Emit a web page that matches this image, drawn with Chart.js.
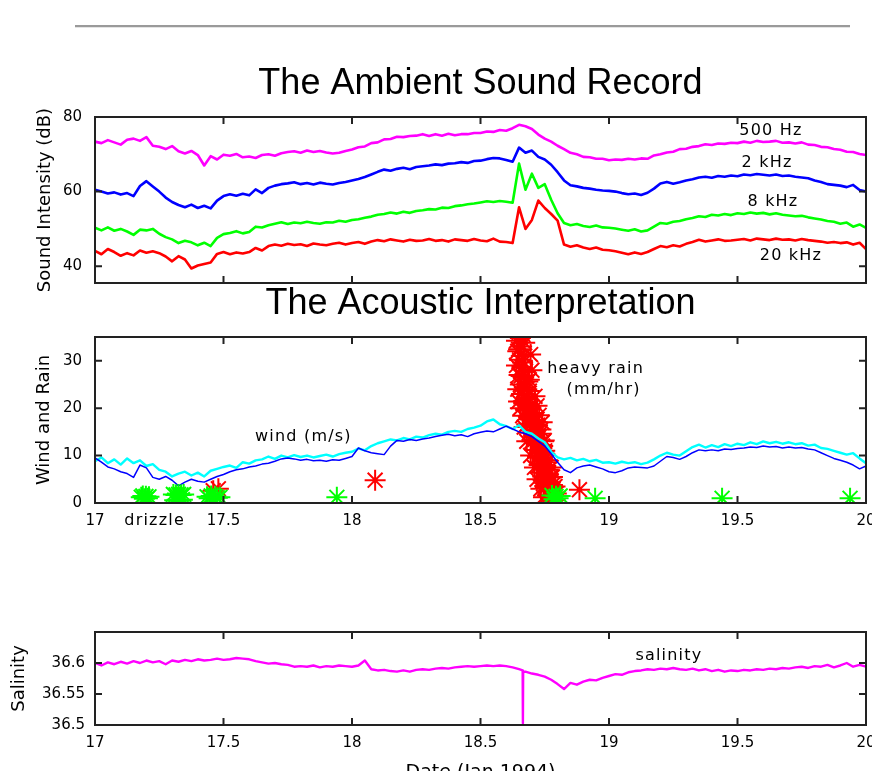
<!DOCTYPE html>
<html><head><meta charset="utf-8">
<script src="https://cdn.jsdelivr.net/npm/chart.js@4.4.1/dist/chart.umd.min.js"></script>
<style>
html,body{margin:0;padding:0;background:#fff;overflow:hidden;width:872px;height:771px;position:relative;}
#rule{position:absolute;left:75px;top:25px;width:775px;height:2px;background:#9a9a9a;border-bottom:1px solid #e4e4e4;}
canvas{position:absolute;left:0;}
</style></head><body>
<div id="rule"></div>
<canvas id="c1" width="872" height="250" style="top:50px"></canvas>
<canvas id="c2" width="872" height="270" style="top:270px"></canvas>
<canvas id="c3" width="872" height="200" style="top:600px"></canvas>
<script>
// ---------- data ----------
const days = [
17, 17.025, 17.05, 17.075, 17.1, 17.125, 17.15, 17.175, 17.2, 17.225,
17.25, 17.275, 17.3, 17.325, 17.35, 17.375, 17.4, 17.425, 17.45, 17.475,
17.5, 17.525, 17.55, 17.575, 17.6, 17.625, 17.65, 17.675, 17.7, 17.725,
17.75, 17.775, 17.8, 17.825, 17.85, 17.875, 17.9, 17.925, 17.95, 17.975,
18, 18.025, 18.05, 18.075, 18.1, 18.125, 18.15, 18.175, 18.2, 18.225,
18.25, 18.275, 18.3, 18.325, 18.35, 18.375, 18.4, 18.425, 18.45, 18.475,
18.5, 18.525, 18.55, 18.575, 18.6, 18.625, 18.65, 18.675, 18.7, 18.725,
18.75, 18.775, 18.8, 18.825, 18.85, 18.875, 18.9, 18.925, 18.95, 18.975,
19, 19.025, 19.05, 19.075, 19.1, 19.125, 19.15, 19.175, 19.2, 19.225,
19.25, 19.275, 19.3, 19.325, 19.35, 19.375, 19.4, 19.425, 19.45, 19.475,
19.5, 19.525, 19.55, 19.575, 19.6, 19.625, 19.65, 19.675, 19.7, 19.725,
19.75, 19.775, 19.8, 19.825, 19.85, 19.875, 19.9, 19.925, 19.95, 19.975,
20];

const sound500Hz = [
73.4, 73.0, 73.8, 73.2, 72.6, 73.9, 74.2, 73.6, 74.6, 72.3,
72.0, 71.4, 72.2, 70.8, 70.2, 70.9, 69.8, 67.0, 69.5, 68.6,
69.9, 69.6, 70.1, 69.2, 69.4, 69.0, 69.8, 70.0, 69.6, 70.3,
70.6, 70.8, 70.4, 71.0, 70.6, 70.9, 70.5, 70.2, 70.4, 70.9,
71.3, 71.9, 72.1, 73.0, 73.2, 74.0, 74.1, 74.7, 74.6, 74.9,
75.0, 75.4, 74.9, 75.4, 75.0, 75.5, 75.1, 75.4, 75.4, 75.7,
75.7, 76.1, 76.0, 76.5, 76.3, 77.0, 77.9, 77.5, 76.8, 75.3,
74.2, 73.4, 72.3, 71.4, 70.4, 70.0, 69.3, 69.2, 68.8, 68.8,
68.4, 68.6, 68.5, 68.8, 68.6, 68.9, 68.8, 69.7, 70.0, 70.5,
70.7, 71.4, 71.5, 72.0, 72.2, 72.7, 72.5, 72.9, 72.8, 73.1,
73.0, 73.4, 73.1, 73.6, 73.3, 73.4, 73.6, 73.1, 73.2, 72.9,
73.2, 72.6, 72.5, 72.0, 71.9, 71.4, 71.2, 70.7, 70.6, 70.1,
69.8];

const sound2kHz = [
60.5, 60.0, 59.5, 59.8, 59.2, 59.6, 58.8, 61.5, 62.8, 61.4,
60.0, 58.4, 57.2, 56.4, 55.8, 56.5, 55.6, 56.2, 55.5, 57.6,
58.8, 59.3, 58.9, 59.4, 59.0, 60.6, 59.6, 61.0, 61.6, 62.0,
62.2, 62.5, 62.0, 62.3, 61.9, 62.4, 62.1, 61.9, 62.3, 62.6,
63.0, 63.4, 63.9, 64.6, 65.3, 65.9, 65.6, 66.1, 66.4, 66.0,
66.6, 66.8, 67.0, 67.3, 67.1, 67.5, 67.6, 67.9, 67.7, 68.2,
68.3, 68.7, 69.0, 68.9, 68.5, 68.0, 71.8, 70.4, 71.0, 69.3,
68.6, 67.2, 65.2, 63.0, 61.7, 61.4, 61.0, 60.8, 60.5, 60.3,
60.2, 60.0, 59.6, 59.3, 59.5, 59.1, 59.7, 60.8, 62.2, 62.6,
62.1, 62.5, 63.0, 63.3, 63.8, 64.0, 63.7, 64.2, 64.0, 64.3,
64.1, 64.6, 64.4, 64.7, 64.5, 64.3, 64.6, 64.2, 64.3, 64.0,
63.8, 63.6, 63.0, 62.6, 62.0, 61.8, 61.6, 61.2, 61.8, 60.4,
60.0];

const sound8kHz = [
50.3, 49.6, 50.4, 49.5, 50.0, 49.3, 48.4, 49.8, 49.6, 50.0,
48.7, 47.8, 47.2, 46.2, 46.8, 46.4, 45.6, 46.3, 45.4, 47.6,
48.6, 48.9, 49.4, 48.8, 49.2, 50.6, 50.4, 51.0, 51.4, 51.8,
51.3, 51.7, 51.5, 51.9, 51.6, 51.4, 51.8, 51.7, 52.2, 51.9,
52.4, 52.6, 53.0, 53.3, 53.8, 54.0, 54.4, 54.1, 54.6, 54.3,
54.8, 55.0, 55.3, 55.2, 55.7, 55.6, 56.1, 56.3, 56.6, 56.8,
57.1, 57.4, 57.2, 57.5, 57.3, 57.0, 67.5, 60.5, 64.8, 61.0,
62.0, 57.8, 54.2, 51.6, 51.0, 51.3, 50.8, 50.5, 50.9, 50.4,
50.3, 50.1, 49.8, 49.5, 49.9, 49.3, 49.6, 50.6, 51.6, 51.4,
51.9, 52.1, 52.6, 52.9, 53.4, 53.2, 53.8, 53.6, 54.0, 53.7,
54.2, 54.0, 54.4, 54.1, 54.3, 53.9, 54.2, 53.8, 53.6, 53.4,
53.5, 53.1, 52.8, 52.5, 52.1, 51.9, 51.4, 51.7, 50.6, 51.2,
50.3];

const sound20kHz = [
44.1, 43.2, 44.6, 43.8, 42.8, 43.5, 42.9, 44.2, 43.6, 44.0,
43.5, 42.6, 41.3, 42.7, 41.8, 39.4, 40.2, 40.6, 41.0, 43.3,
43.8, 43.2, 43.7, 43.4, 43.8, 44.9, 44.2, 45.4, 45.8, 45.5,
46.0, 45.7, 45.9, 45.4, 46.1, 45.8, 45.6, 46.0, 46.3, 45.8,
46.2, 46.5, 46.0, 46.6, 47.0, 46.7, 47.2, 46.9, 46.6, 47.1,
46.8, 46.9, 47.3, 46.8, 47.0, 46.6, 47.2, 47.0, 46.8, 47.3,
46.9, 46.7, 47.4, 46.6, 46.5, 46.2, 55.8, 50.0, 52.4, 57.6,
55.6, 54.0, 52.2, 45.8, 45.2, 45.6, 45.0, 44.6, 45.0, 44.4,
44.3, 44.0, 43.6, 43.2, 43.7, 43.3, 43.8, 44.6, 45.4, 45.1,
45.6, 45.3, 46.0, 46.5, 47.1, 46.6, 46.9, 47.2, 46.8, 46.9,
47.1, 47.3, 46.9, 47.4, 47.2, 47.0, 47.4, 47.1, 47.2, 46.9,
47.3, 47.0, 46.8, 46.6, 46.3, 46.5, 46.2, 46.4, 45.8, 46.3,
44.6];

const windCyan = [
8.8, 9.6, 8.4, 9.2, 8.1, 9.4, 8.4, 9.0, 7.8, 8.2,
7.0, 6.6, 5.6, 6.2, 6.6, 5.8, 6.4, 5.6, 6.8, 7.2,
7.6, 7.9, 7.4, 8.6, 8.3, 9.0, 9.2, 9.8, 9.3, 10.0,
9.6, 10.1, 9.7, 10.0, 9.6, 9.9, 10.2, 9.8, 10.3, 10.6,
10.8, 11.5, 11.1, 12.0, 12.6, 13.0, 13.4, 13.2, 13.7, 13.4,
14.0, 13.8, 14.3, 14.6, 14.4, 15.0, 15.2, 15.0, 15.6, 15.9,
16.3, 17.2, 17.6, 16.6, 16.2, 15.6, 16.4, 15.0, 14.6, 13.6,
12.8, 10.8, 9.6, 9.2, 9.5, 9.0, 9.3, 8.8, 9.1, 8.5,
8.6, 8.3, 8.7, 8.4, 8.6, 8.2, 8.5, 9.2, 10.0, 10.6,
10.2, 10.0, 10.9, 11.8, 12.3, 11.7, 12.2, 11.8, 12.4, 12.0,
12.5, 12.2, 12.8, 12.4, 13.0, 12.6, 12.9, 12.5, 12.8, 12.4,
12.6, 12.1, 12.3, 11.6, 11.4, 11.0, 10.6, 10.2, 10.5, 9.4,
8.4];

const windBlue = [
9.5, 8.6, 7.6, 7.2, 6.6, 6.2, 5.4, 8.0, 7.4, 5.4,
5.0, 5.6, 4.8, 3.6, 4.4, 5.0, 4.6, 4.4, 5.0, 5.6,
6.0, 6.6, 7.0, 7.2, 7.6, 7.8, 8.2, 8.4, 8.8, 9.3,
9.5, 9.3, 9.0, 9.2, 8.9, 9.0, 8.8, 9.1, 9.0, 9.4,
9.8, 11.6, 11.0, 10.6, 10.4, 10.2, 12.0, 13.2, 13.0, 13.4,
13.2, 13.5, 13.7, 14.0, 14.3, 14.5, 14.2, 14.4, 14.0, 14.6,
14.9, 15.2, 15.0, 15.6, 16.2, 15.6, 15.0, 14.6, 14.0, 13.0,
12.0, 10.4, 8.6, 7.0, 6.4, 7.4, 7.8, 8.0, 7.6, 7.2,
6.6, 6.4, 6.8, 7.4, 7.6, 7.5, 7.4, 7.8, 8.8, 9.8,
9.6, 9.2, 9.8, 10.6, 11.2, 11.0, 11.2, 11.0, 11.4, 11.3,
11.5, 11.6, 11.8, 11.7, 12.0, 11.8, 11.9, 11.6, 11.8, 11.6,
11.7, 11.4, 11.2, 10.6, 10.0, 9.4, 9.0, 8.6, 8.0, 7.2,
7.8];

const rainDays = [
18.650, 18.665, 18.655, 18.640, 18.672, 18.660, 18.648, 18.695, 18.668, 18.652,
18.640, 18.662, 18.675, 18.650, 18.668, 18.684, 18.655, 18.672, 18.690, 18.660,
18.678, 18.648, 18.668, 18.690, 18.676, 18.700, 18.664, 18.688, 18.708, 18.740,
18.680, 18.698, 18.716, 18.690, 18.708, 18.726, 18.748, 18.700, 18.718, 18.736,
18.712, 18.730, 18.750, 18.722, 18.740, 18.758, 18.728, 18.746, 18.764, 18.736,
18.754, 18.772, 18.744, 18.762, 18.780, 18.752, 18.770, 18.788, 18.760, 18.778,
18.656, 18.645, 18.664, 18.658, 18.680, 18.684, 18.696, 18.706, 18.694, 18.722,
18.704, 18.730, 18.712, 18.742, 18.726, 18.744, 18.734, 18.754, 18.742, 18.764,
18.750, 18.772, 18.766, 18.784, 18.790,
18.700, 18.690, 18.712, 18.720, 18.728, 18.735, 18.745, 18.750, 18.760, 18.775,
18.780, 18.790, 18.795, 18.645, 18.655, 18.670, 18.680, 18.695, 18.710, 18.720,
18.735, 18.745,
18.090, 18.885, 17.460, 17.480];
const rainValues = [
36.0, 35.5, 34.8, 34.2, 33.8, 33.0, 32.4, 31.3, 31.0, 30.2,
29.0, 28.6, 27.8, 27.0, 26.4, 25.6, 25.0, 24.4, 23.6, 23.0,
22.2, 21.4, 21.0, 20.4, 19.6, 19.0, 18.4, 18.0, 17.4, 17.0,
16.6, 16.0, 15.4, 14.8, 14.2, 13.8, 13.2, 13.0, 12.4, 11.8,
11.2, 10.6, 10.2, 9.6, 9.0, 8.6, 8.0, 7.4, 7.0, 6.4,
5.8, 5.4, 4.8, 4.2, 3.8, 3.2, 2.6, 2.2, 1.6, 1.0,
35.2, 32.0, 29.6, 26.8, 24.0, 21.8, 20.0, 18.8, 17.6, 16.4,
15.2, 14.6, 13.4, 12.0, 10.0, 10.8, 8.4, 7.8, 5.6, 6.0,
3.6, 4.4, 1.4, 1.8, 0.8,
28.0, 26.0, 22.5, 20.5, 18.5, 15.5, 13.0, 11.0, 9.0, 7.5,
5.5, 3.5, 2.0, 24.0, 20.0, 16.0, 13.0, 10.0, 7.5, 5.0,
3.0, 1.2,
4.8, 2.8, 2.6, 3.0];

const drizzleDays = [
17.180, 17.186, 17.192, 17.198, 17.204, 17.210,
17.305, 17.310, 17.315, 17.320, 17.325, 17.330, 17.335, 17.340, 17.345,
17.436, 17.444, 17.452, 17.460, 17.468, 17.476, 17.486,
17.941, 18.778, 18.786, 18.794, 18.802, 18.810, 18.946, 19.440, 19.938];
const drizzleValues = [
1.2, 1.5, 0.9, 1.4, 1.0, 1.3,
1.8, 0.6, 1.7, 0.7, 1.8, 0.6, 1.7, 0.7, 1.8,
1.3, 1.0, 1.5, 0.9, 1.4, 1.1, 1.2,
1.2, 1.6, 0.8, 1.4, 1.0, 1.5, 1.0, 1.0, 1.0];

const salinity = [
36.600, 36.596, 36.601, 36.598, 36.602, 36.599, 36.603, 36.600, 36.604, 36.601,
36.603, 36.598, 36.604, 36.602, 36.605, 36.603, 36.606, 36.604, 36.605, 36.607,
36.605, 36.606, 36.608, 36.607, 36.606, 36.603, 36.601, 36.599, 36.600, 36.598,
36.597, 36.594, 36.595, 36.594, 36.596, 36.593, 36.595, 36.594, 36.596, 36.595,
36.594, 36.596, 36.604, 36.590, 36.588, 36.589, 36.587, 36.586, 36.588, 36.586,
36.589, 36.590, 36.589, 36.591, 36.592, 36.591, 36.593, 36.594, 36.595, 36.594,
36.595, 36.596, 36.595, 36.596, 36.595, 36.593, 36.590, 36.586, 36.583, 36.581,
36.578, 36.573, 36.566, 36.558, 36.568, 36.565, 36.570, 36.573, 36.572, 36.576,
36.579, 36.582, 36.581, 36.585, 36.587, 36.588, 36.590, 36.589, 36.591, 36.590,
36.592, 36.590, 36.589, 36.591, 36.588, 36.590, 36.587, 36.589, 36.586, 36.588,
36.587, 36.589, 36.588, 36.590, 36.589, 36.591, 36.590, 36.592, 36.591, 36.593,
36.594, 36.592, 36.595, 36.594, 36.597, 36.593, 36.596, 36.600, 36.594, 36.597,
36.594];
const salinityDipDays = [18.664, 18.665, 18.666];
const salinityDipValues = [36.588, 36.503, 36.586];

const dayTicks = [17, 17.5, 18, 18.5, 19, 19.5, 20];
const soundTicks = [40, 60, 80];
const windTicks = [0, 10, 20, 30];
const salinityTicks = [36.5, 36.55, 36.6];

// ---------- helpers ----------
const FAMILY = '"DejaVu Sans", sans-serif';
function pts(xs, ys) { return xs.map((d, i) => ({x: d, y: ys[i]})); }

const framePlugin = {
  id: 'frame',
  afterDraw(chart, args, opts) {
    const {ctx, chartArea: a} = chart;
    const x = chart.scales.x, y = chart.scales.y;
    ctx.save();
    ctx.strokeStyle = '#222';
    ctx.lineWidth = 2;
    ctx.strokeRect(a.left, a.top, a.right - a.left, a.bottom - a.top);
    ctx.beginPath();
    const L = 7;
    x.ticks.forEach(t => {
      const px = x.getPixelForValue(t.value);
      if (px <= a.left + 2 || px >= a.right - 2) return;
      ctx.moveTo(px, a.bottom); ctx.lineTo(px, a.bottom - L);
      ctx.moveTo(px, a.top); ctx.lineTo(px, a.top + L);
    });
    y.ticks.forEach(t => {
      const py = y.getPixelForValue(t.value);
      if (py <= a.top + 2 || py >= a.bottom - 2) return;
      ctx.moveTo(a.left, py); ctx.lineTo(a.left + L, py);
      ctx.moveTo(a.right, py); ctx.lineTo(a.right - L, py);
    });
    ctx.stroke();
    (opts.labels || []).forEach(l => {
      ctx.font = '16px ' + FAMILY;
      ctx.fillStyle = '#000';
      ctx.textAlign = 'center';
      ctx.textBaseline = 'middle';
      try { ctx.letterSpacing = '1.2px'; } catch (e) {}
      ctx.fillText(l.text, x.getPixelForValue(l.day), y.getPixelForValue(l.value));
    });
    ctx.restore();
  }
};

function xAxis(h, showLabels, title) {
  return {
    type: 'linear', min: 17, max: 20,
    grid: {display: false, drawTicks: false},
    border: {display: false},
    ticks: {display: showLabels, padding: 9.5, autoSkip: false, maxRotation: 0,
            font: {family: FAMILY, size: 15}, color: '#000', callback: v => String(v)},
    afterBuildTicks: s => { s.ticks = dayTicks.map(v => ({value: v})); },
    afterFit: s => { s.height = h; s.paddingLeft = 0; s.paddingRight = 0; },
    title: title || {display: false}
  };
}
function yAxis(min, max, tickArr, text, titlePad, tickPad) {
  return {
    type: 'linear', min: min, max: max,
    grid: {display: false, drawTicks: false},
    border: {display: false},
    ticks: {padding: tickPad, font: {family: FAMILY, size: 15}, color: '#000', callback: v => String(v)},
    afterBuildTicks: s => { s.ticks = tickArr.map(v => ({value: v})); },
    afterFit: s => { s.width = 95; s.paddingTop = 0; s.paddingBottom = 0; },
    title: {display: true, text: text, color: '#000', font: {family: FAMILY, size: 18},
            padding: {top: titlePad, bottom: 0}}
  };
}
function lineDs(data, color, width, order) {
  return {type: 'line', data: data, borderColor: color, backgroundColor: color, borderWidth: width,
          pointRadius: 0, tension: 0, borderJoinStyle: 'round', order: order, clip: 2};
}
function starDs(data, color, order) {
  return {type: 'line', data: data, showLine: false, pointStyle: 'star', pointRadius: 10.5,
          borderColor: color, backgroundColor: color, pointBorderWidth: 2, borderWidth: 2,
          order: order, clip: 0};
}
function titleOpt(text) {
  return {display: true, text: text, fullSize: false, color: '#000',
          font: {family: '"Liberation Sans", Arial, sans-serif', size: 36, weight: 'normal', lineHeight: 1.2},
          padding: {top: 12.9, bottom: 10.9}};
}
const base = {responsive: false, animation: false, events: []};
const layoutOf = top => ({autoPadding: false, padding: {left: 0, right: 6, top: top, bottom: 0}});

// ---------- panel 1: ambient sound ----------
new Chart(document.getElementById('c1'), {
  type: 'line',
  data: {datasets: [
    lineDs(pts(days, sound500Hz), '#ff00ff', 2.6, 3),
    lineDs(pts(days, sound2kHz), '#0000ff', 2.6, 2),
    lineDs(pts(days, sound8kHz), '#00ff00', 2.6, 1),
    lineDs(pts(days, sound20kHz), '#ff0000', 2.6, 0)
  ]},
  options: Object.assign({}, base, {
    layout: layoutOf(0),
    scales: {x: xAxis(17, false), y: yAxis(35.5, 80, soundTicks, 'Sound Intensity (dB)', 35.0, 13)},
    plugins: {legend: {display: false}, tooltip: {enabled: false},
      title: titleOpt('The Ambient Sound Record'),
      frame: {labels: [
        {text: '500 Hz', day: 19.63, value: 76.25},
        {text: '2 kHz', day: 19.615, value: 67.8},
        {text: '8 kHz', day: 19.638, value: 57.35},
        {text: '20 kHz', day: 19.708, value: 42.7}
      ]}}
  }),
  plugins: [framePlugin]
});

// ---------- panel 2: acoustic interpretation ----------
new Chart(document.getElementById('c2'), {
  type: 'line',
  data: {datasets: [
    starDs(pts(rainDays, rainValues), '#ff0000', 3),
    lineDs(pts(days, windCyan), '#00ffff', 2.4, 2),
    lineDs(pts(days, windBlue), '#0000ff', 1.5, 1),
    starDs(pts(drizzleDays, drizzleValues), '#00ff00', 0)
  ]},
  options: Object.assign({}, base, {
    layout: layoutOf(0),
    scales: {x: xAxis(37, true), y: yAxis(0, 35, windTicks, 'Wind and Rain', 34.0, 13)},
    plugins: {legend: {display: false}, tooltip: {enabled: false},
      title: titleOpt('The Acoustic Interpretation'),
      frame: {labels: [
        {text: 'heavy rain', day: 18.948, value: 28.25},
        {text: '(mm/hr)', day: 18.979, value: 23.8},
        {text: 'wind (m/s)', day: 17.811, value: 14.0},
        {text: 'drizzle', day: 17.232, value: -3.8}
      ]}}
  }),
  plugins: [framePlugin]
});

// ---------- panel 3: salinity ----------
const salPts = pts(days, salinity).concat(pts(salinityDipDays, salinityDipValues)).sort((a, b) => a.x - b.x);
new Chart(document.getElementById('c3'), {
  type: 'line',
  data: {datasets: [lineDs(salPts, '#ff00ff', 2.4, 0)]},
  options: Object.assign({}, base, {
    layout: layoutOf(32),
    scales: {
      x: xAxis(75, true, {display: true, text: 'Date (Jan 1994)', color: '#000',
                          font: {family: FAMILY, size: 19}, padding: {top: 0, bottom: 15.3}}),
      y: yAxis(36.5, 36.65, salinityTicks, 'Salinity', 9.0, 10)
    },
    plugins: {legend: {display: false}, tooltip: {enabled: false},
      frame: {labels: [{text: 'salinity', day: 19.233, value: 36.611}]}}
  }),
  plugins: [framePlugin]
});
</script>
</body></html>
